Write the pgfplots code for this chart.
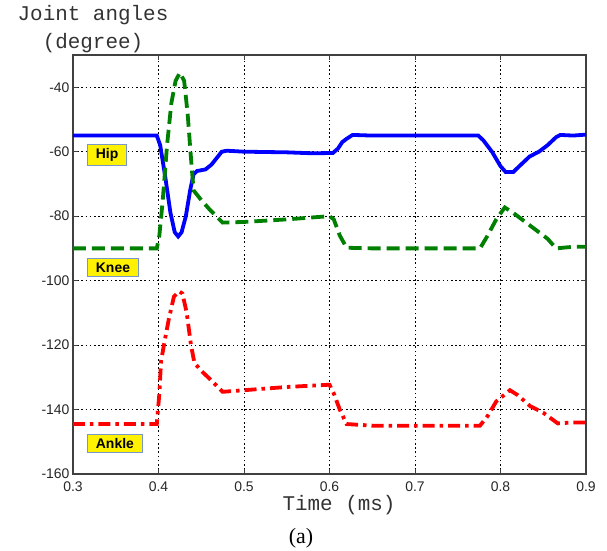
\documentclass[border=0pt]{standalone}
\usepackage{pgfplots}
\pgfplotsset{compat=1.18}
\usepackage{fontspec}
\setmainfont{Liberation Sans}
\newfontfamily\monofont{Liberation Mono}
\newfontfamily\seriffont{Liberation Serif}
\definecolor{mblue}{RGB}{0,0,255}
\definecolor{mgreen}{RGB}{0,128,0}
\definecolor{mred}{RGB}{255,0,0}
\definecolor{boxedge}{RGB}{120,150,200}
\begin{document}
\begin{tikzpicture}
\path[use as bounding box] (-73bp,-77bp) rectangle (534bp,474bp);
\begin{axis}[
  at={(0,0)}, anchor=south west,
  scale only axis, width=513bp, height=419bp,
  xmin=0.3, xmax=0.9, ymin=-160, ymax=-30,
  xtick={0.3,0.4,...,0.9}, ytick={-160,-140,...,-40},
  xticklabel style={/pgf/number format/fixed,/pgf/number format/precision=1,/pgf/number format/fixed zerofill, yshift=-4bp},
  /pgf/number format/assume math mode=true,
  ticklabel style={font=\fontsize{14}{16}\selectfont, text=black!85},
  grid=major,
  major grid style={black, line width=0.8bp, dash pattern=on 1.6bp off 2.6bp},
  axis line style={black!75, line width=1.2bp},
  tick style={black!75, line width=0.8bp},
  tick align=inside, major tick length=5bp,
  clip=true,
]
\addplot[mblue, line width=3.8bp] coordinates {
(0.30,-55) (0.398,-55) (0.402,-58) (0.408,-68) (0.414,-79) (0.419,-85) (0.423,-86.3) (0.427,-85) (0.432,-80) (0.437,-72) (0.441,-67) (0.445,-66) (0.455,-65.5) (0.462,-64) (0.468,-62) (0.474,-60) (0.48,-59.7) (0.5,-60) (0.55,-60.2) (0.58,-60.5) (0.604,-60.4) (0.61,-59) (0.615,-57) (0.62,-56) (0.627,-54.8) (0.65,-55) (0.7,-55) (0.774,-55) (0.78,-56.5) (0.79,-60) (0.8,-64.5) (0.806,-66.3) (0.815,-66.3) (0.822,-64.5) (0.834,-61.5) (0.845,-60) (0.855,-58) (0.865,-55.5) (0.87,-54.8) (0.885,-55) (0.9,-54.7)
};
\addplot[mgreen, line width=3.8bp, dash pattern=on 13bp off 6bp] coordinates {
(0.30,-90) (0.398,-90) (0.401,-86) (0.405,-75) (0.41,-58) (0.415,-45) (0.42,-38) (0.425,-35.5) (0.43,-38) (0.434,-48) (0.438,-62) (0.441,-72) (0.45,-75) (0.46,-78) (0.475,-82) (0.5,-81.8) (0.55,-81) (0.6,-80) (0.605,-81) (0.612,-86) (0.62,-89.8) (0.65,-90) (0.776,-90) (0.785,-86) (0.795,-81) (0.805,-77.3) (0.815,-79) (0.83,-82) (0.845,-85) (0.855,-87) (0.865,-90) (0.885,-89.5) (0.9,-89.5)
};
\addplot[mred, line width=3.8bp, dash pattern=on 12bp off 5bp on 3.5bp off 5bp] coordinates {
(0.30,-144.5) (0.398,-144.5) (0.401,-135) (0.403,-125) (0.407,-119) (0.412,-112) (0.418,-105) (0.424,-103.3) (0.428,-104) (0.433,-110) (0.438,-120) (0.442,-125.5) (0.45,-128) (0.46,-130.5) (0.475,-134.5) (0.5,-134) (0.55,-133) (0.6,-132.3) (0.605,-135) (0.612,-140) (0.62,-144.5) (0.65,-145) (0.776,-145) (0.785,-142) (0.795,-137.5) (0.811,-134) (0.82,-135.5) (0.835,-139) (0.85,-141) (0.867,-144.3) (0.885,-144) (0.9,-144)
};
\tikzset{lbl/.style={anchor=west, fill=yellow, draw=boxedge, line width=0.8bp, inner xsep=8.5bp, inner ysep=4bp, font=\fontsize{14}{16}\selectfont\bfseries}}
\node[lbl] at (axis cs:0.3164,-61.1) {Hip};
\node[lbl] at (axis cs:0.3164,-96) {Knee};
\node[lbl] at (axis cs:0.3164,-150.4) {Ankle};
\end{axis}
\node[align=center, font=\fontsize{21}{28}\selectfont\monofont, text=black!80] at (20bp,445bp) {Joint angles\\(degree)};
\node[font=\fontsize{21}{24}\selectfont\monofont, text=black!80] at (266bp,-31bp) {Time (ms)};
\node[font=\fontsize{22}{24}\selectfont\seriffont] at (228bp,-64bp) {(a)};
\end{tikzpicture}
\end{document}
